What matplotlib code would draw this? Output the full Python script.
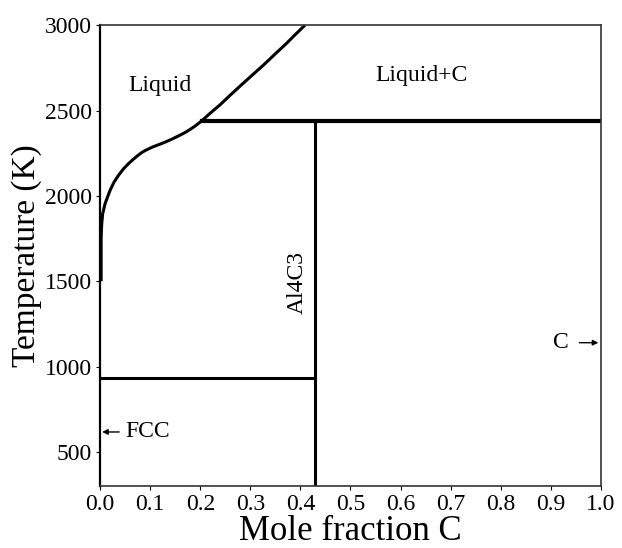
import matplotlib
matplotlib.use("Agg")
import matplotlib.pyplot as plt

plt.rcParams['font.family'] = ['Liberation Serif', 'DejaVu Serif']

# Liquidus curve (mole fraction C, temperature K)
liq_x = [0.002, 0.002, 0.003, 0.005, 0.01, 0.02, 0.028, 0.037, 0.047, 0.057, 0.066,
         0.075, 0.083, 0.09, 0.098, 0.105, 0.115, 0.123, 0.133, 0.145, 0.157, 0.17,
         0.18, 0.19, 0.203, 0.22, 0.24, 0.259, 0.279, 0.302, 0.326, 0.349, 0.372,
         0.39, 0.409]
liq_T = [1500, 1750, 1830, 1895, 1956, 2034, 2082, 2122, 2160, 2190, 2214,
         2236, 2254, 2266, 2277, 2287, 2298, 2307, 2319, 2335, 2352, 2372,
         2390, 2410, 2440, 2485, 2535, 2588, 2642, 2703, 2766, 2830, 2893,
         2946, 3000]

# Invariant lines and compound
x_al4c3 = 3 / 7
T_peritectic = 2440
x_peri_start = 0.203
T_eutectic = 935
T_min, T_max = 300, 3000

x_ticks = [0.0, 0.1, 0.2, 0.3, 0.4, 0.5, 0.6, 0.7, 0.8, 0.9, 1.0]
y_ticks = [500, 1000, 1500, 2000, 2500, 3000]

fig = plt.figure(figsize=(6.22, 5.48), dpi=100)
ax = fig.add_axes([0.161, 0.113, 0.805, 0.841])

lw = 2.2
ax.plot(liq_x, liq_T, color='black', lw=lw, solid_capstyle='butt',
        solid_joinstyle='round')
ax.plot([x_peri_start, 1.0], [T_peritectic, T_peritectic], color='black', lw=3.0)
ax.plot([x_al4c3, x_al4c3], [T_min, T_peritectic], color='black', lw=lw)
ax.plot([0.0, x_al4c3], [T_eutectic, T_eutectic], color='black', lw=lw)

ax.set_xlim(0, 1.0)
ax.set_ylim(T_min, T_max)
ax.set_xticks(x_ticks)
ax.set_xticklabels([f"{v:.1f}" for v in x_ticks])
ax.set_yticks(y_ticks)
ax.set_yticklabels([str(v) for v in y_ticks])
ax.tick_params(direction='out', length=3, width=0.8, labelsize=17, pad=3)
for s in ax.spines.values():
    s.set_linewidth(1.2)
    s.set_color('#333333')
ax.spines['left'].set_color('black')
ax.spines['left'].set_linewidth(1.6)

ax.set_xlabel('Mole fraction C', fontsize=25, labelpad=0)
ax.set_ylabel('Temperature (K)', fontsize=24, labelpad=2)

tfs = 17
ax.text(0.056, 2649, 'Liquid', fontsize=tfs, ha='left', va='center')
ax.text(0.55, 2707, 'Liquid+C', fontsize=tfs, ha='left', va='center')
ax.text(0.393, 1490, 'Al4C3', fontsize=tfs, ha='center', va='center', rotation=90)
ax.text(0.92, 1140, 'C', fontsize=tfs, ha='center', va='center')
ax.annotate('', xy=(0.995, 1140), xytext=(0.957, 1140),
            arrowprops=dict(arrowstyle='-|>', color='black', lw=1.0,
                            mutation_scale=8, shrinkA=0, shrinkB=0))
ax.annotate('', xy=(0.004, 617), xytext=(0.038, 617),
            arrowprops=dict(arrowstyle='-|>', color='black', lw=1.0,
                            mutation_scale=8, shrinkA=0, shrinkB=0))
ax.text(0.05, 617, 'FCC', fontsize=tfs, ha='left', va='center')

fig.savefig('out.png', dpi=100)
